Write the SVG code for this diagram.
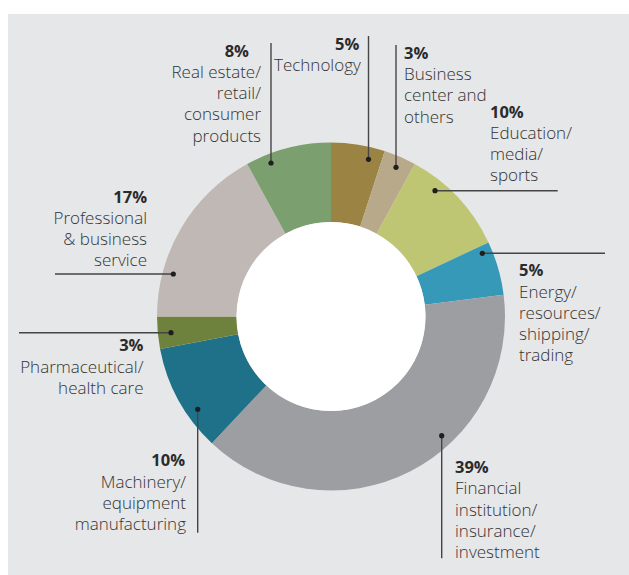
<svg xmlns="http://www.w3.org/2000/svg" width="629" height="575" viewBox="0 0 629 575">
<style>
.t{font-family:"Open Sans","Noto Sans","DejaVu Sans",sans-serif;font-size:17px;font-weight:300;fill:#333333}
.b{font-family:"Open Sans","Noto Sans","DejaVu Sans",sans-serif;font-size:16.5px;font-weight:bold;fill:#2b2b2b}
.e{text-anchor:end}
.ln{stroke:#454545;stroke-width:1.4;fill:none}
.dot{fill:#1e1e1e}
.seg{stroke:none}
</style>
<rect x="0" y="0" width="629" height="575" fill="#ffffff"/>
<rect x="8" y="14" width="621" height="561" fill="#e6e7e8"/>
<g id="chart">
<g id="seg-technology"><path class="seg" fill="#9b8443" d="M331,142.5 A174,174 0 0 1 384.77,151.02 L360.2,226.62 A94.5,94.5 0 0 0 331,222 Z"/></g>
<g id="seg-business"><path class="seg" fill="#b8a98a" d="M384.77,151.02 A174,174 0 0 1 414.82,164.02 L376.53,233.69 A94.5,94.5 0 0 0 360.2,226.62 Z"/></g>
<g id="seg-education"><path class="seg" fill="#bec673" d="M414.82,164.02 A174,174 0 0 1 488.44,242.41 L416.51,276.26 A94.5,94.5 0 0 0 376.53,233.69 Z"/></g>
<g id="seg-energy"><path class="seg" fill="#3699b8" d="M488.44,242.41 A174,174 0 0 1 503.63,294.69 L424.75,304.66 A94.5,94.5 0 0 0 416.51,276.26 Z"/></g>
<g id="seg-financial"><path class="seg" fill="#9d9ea2" d="M503.63,294.69 A174,174 0 0 1 211.89,443.34 L266.31,385.39 A94.5,94.5 0 0 0 424.75,304.66 Z"/></g>
<g id="seg-machinery"><path class="seg" fill="#1f7089" d="M211.89,443.34 A174,174 0 0 1 160.08,349.1 L238.17,334.21 A94.5,94.5 0 0 0 266.31,385.39 Z"/></g>
<g id="seg-pharma"><path class="seg" fill="#6f823d" d="M160.08,349.1 A174,174 0 0 1 157,316.5 L236.5,316.5 A94.5,94.5 0 0 0 238.17,334.21 Z"/></g>
<g id="seg-professional"><path class="seg" fill="#c0b8b4" d="M157,316.5 A174,174 0 0 1 247.18,164.02 L285.47,233.69 A94.5,94.5 0 0 0 236.5,316.5 Z"/></g>
<g id="seg-realestate"><path class="seg" fill="#7b9f6e" d="M247.18,164.02 A174,174 0 0 1 331,142.5 L331,222 A94.5,94.5 0 0 0 285.47,233.69 Z"/></g>
<circle cx="331" cy="316.5" r="94.5" fill="#ffffff"/>
</g>
<g id="connectors">
<path class="ln" d="M271,43 V163"/><circle class="dot" cx="271" cy="163" r="2.6"/>
<path class="ln" d="M368.5,36 V159.3"/><circle class="dot" cx="368.5" cy="159.3" r="2.6"/>
<path class="ln" d="M396,45 V167.3"/><circle class="dot" cx="396" cy="167.3" r="2.6"/>
<path class="ln" d="M435,190.7 H557.7"/><circle class="dot" cx="435" cy="190.7" r="2.6"/>
<path class="ln" d="M482.3,253.3 H605"/><circle class="dot" cx="482.3" cy="253.3" r="2.6"/>
<path class="ln" d="M441.7,435.7 V558.3"/><circle class="dot" cx="441.7" cy="435.7" r="2.6"/>
<path class="ln" d="M197.7,409.3 V532.7"/><circle class="dot" cx="197.7" cy="409.3" r="2.6"/>
<path class="ln" d="M19,332.7 H171"/><circle class="dot" cx="171" cy="332.7" r="2.6"/>
<path class="ln" d="M55,274 H173.3"/><circle class="dot" cx="173.3" cy="274" r="2.6"/>
</g>
<g id="label-realestate">
<text class="b e" x="249" y="56.5">8%</text>
<text class="t e" x="261" y="77.5">Real estate/</text>
<text class="t e" x="261" y="99">retail/</text>
<text class="t e" x="261" y="120.3">consumer</text>
<text class="t e" x="261" y="141.5">products</text>
</g>
<g id="label-technology">
<text class="b" x="335" y="49.5">5%</text>
<text class="t" x="274" y="71">Technology</text>
</g>
<g id="label-business">
<text class="b" x="404" y="58.5">3%</text>
<text class="t" x="404" y="80">Business</text>
<text class="t" x="404" y="101.3">center and</text>
<text class="t" x="404" y="122.5">others</text>
</g>
<g id="label-education">
<text class="b" x="490" y="118">10%</text>
<text class="t" x="490" y="139.3">Education/</text>
<text class="t" x="490" y="160.3">media/</text>
<text class="t" x="490" y="181.3">sports</text>
</g>
<g id="label-energy">
<text class="b" x="519" y="276.3">5%</text>
<text class="t" x="519" y="297.5">Energy/</text>
<text class="t" x="519" y="318.6">resources/</text>
<text class="t" x="519" y="339.7">shipping/</text>
<text class="t" x="519" y="360.8">trading</text>
</g>
<g id="label-financial">
<text class="b" x="455" y="473">39%</text>
<text class="t" x="455" y="494.3">Financial</text>
<text class="t" x="455" y="515.5">institution/</text>
<text class="t" x="455" y="536.8">insurance/</text>
<text class="t" x="455" y="558">investment</text>
</g>
<g id="label-machinery">
<text class="b e" x="185" y="466.3">10%</text>
<text class="t e" x="186" y="487.5">Machinery/</text>
<text class="t e" x="186" y="508.6">equipment</text>
<text class="t e" x="186" y="529.7">manufacturing</text>
</g>
<g id="label-pharma">
<text class="b e" x="143.5" y="351.3">3%</text>
<text class="t e" x="143.5" y="372.5">Pharmaceutical/</text>
<text class="t e" x="143.5" y="393.7">health care</text>
</g>
<g id="label-professional">
<text class="b e" x="147" y="202.5">17%</text>
<text class="t e" x="147" y="223.8">Professional</text>
<text class="t e" x="147" y="245">&amp; business</text>
<text class="t e" x="147" y="266.2">service</text>
</g>
</svg>
